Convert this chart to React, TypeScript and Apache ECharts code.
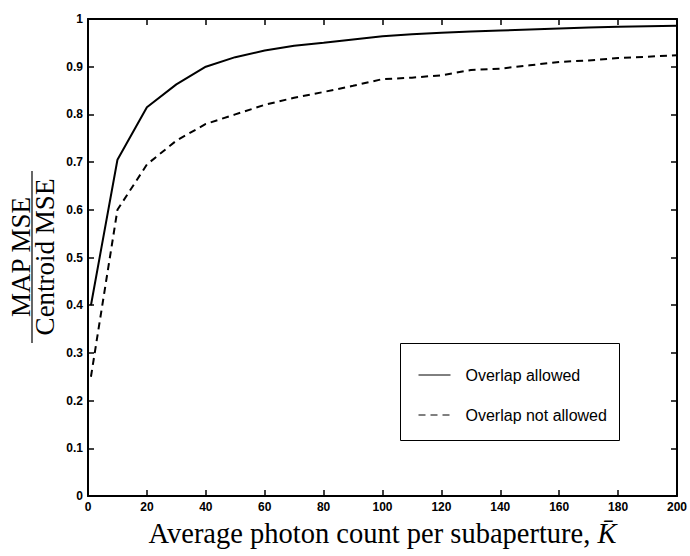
import React, { useEffect, useRef } from "react";
import * as echarts from "echarts";

const kValues = [1, 10, 20, 30, 40, 50, 60, 70, 80, 90, 100, 110, 120, 130, 140, 150, 160, 170, 180, 190, 200];
const overlapAllowed = [0.40, 0.705, 0.815, 0.863, 0.90, 0.92, 0.934, 0.944, 0.95, 0.957, 0.964, 0.968, 0.971, 0.974, 0.976, 0.978, 0.98, 0.982, 0.984, 0.985, 0.986];
const overlapNotAllowed = [0.25, 0.60, 0.695, 0.745, 0.78, 0.80, 0.82, 0.835, 0.847, 0.86, 0.874, 0.877, 0.882, 0.893, 0.896, 0.903, 0.91, 0.913, 0.918, 0.921, 0.924];
const seriesNames = ["Overlap allowed", "Overlap not allowed"];
const xTitle = "Average photon count per subaperture, ";
const yNumerator = "MAP MSE";
const yDenominator = "Centroid MSE";

const tickFont = { color: "#000", fontFamily: "Liberation Sans, Arial, sans-serif", fontWeight: "bold" as const, fontSize: 12 };

export default function App() {
  const ref = useRef<HTMLDivElement>(null);
  useEffect(() => {
    if (!ref.current) return;
    const chart = echarts.init(ref.current, undefined, { renderer: "svg" });
    const axisLine = { show: true, onZero: false, lineStyle: { color: "#000", width: 2 } };
    const axisTick = { show: true, inside: true, length: 6, lineStyle: { color: "#000", width: 1.5 } };
    chart.setOption({
      animation: false,
      backgroundColor: "#fff",
      grid: { left: 88, right: 8, top: 19, bottom: 60, containLabel: false },
      xAxis: [
        {
          type: "value", min: 0, max: 200, interval: 20,
          axisLine, axisTick,
          axisLabel: { ...tickFont, margin: 5 },
          splitLine: { show: false },
          name: `${xTitle}{k|K\u0304}`,
          nameLocation: "middle",
          nameGap: 23,
          nameTextStyle: {
            color: "#000", fontFamily: "Liberation Serif, Times New Roman, serif", fontSize: 28.5,
            rich: { k: { fontStyle: "italic", fontFamily: "Liberation Serif, serif", fontSize: 28.5, color: "#000" } },
          },
        },
        {
          type: "value", position: "top", min: 0, max: 200, interval: 20,
          axisLine, axisTick, axisLabel: { show: false }, splitLine: { show: false },
        },
      ],
      yAxis: [
        {
          type: "value", min: 0, max: 1, interval: 0.1,
          axisLine, axisTick,
          axisLabel: { ...tickFont, margin: 5 },
          splitLine: { show: false },
        },
        {
          type: "value", position: "right", min: 0, max: 1, interval: 0.1,
          axisLine, axisTick, axisLabel: { show: false }, splitLine: { show: false },
        },
      ],
      legend: {
        left: 418, top: 367, orient: "vertical",
        itemWidth: 32, itemHeight: 14, itemGap: 24,
        padding: 0,
        data: seriesNames,
        itemStyle: { opacity: 0 },
        lineStyle: { width: 1 },
        textStyle: { color: "#000", fontFamily: "Liberation Sans, Arial, sans-serif", fontSize: 16, padding: [0, 0, 0, 10] },
      },
      graphic: [
        {
          type: "rect", z: 1,
          shape: { x: 400.5, y: 343.5, width: 219, height: 97 },
          style: { fill: "#fff", stroke: "#000", lineWidth: 1 },
        },
        {
          type: "group", x: 32, y: 257, rotation: Math.PI / 2,
          children: [
            { type: "text", x: 0, y: -11.5, style: { text: yNumerator, fontFamily: "Liberation Serif, serif", fontSize: 27, fill: "#000", align: "center", verticalAlign: "middle" } },
            { type: "line", shape: { x1: -86, y1: 0, x2: 86, y2: 0 }, style: { stroke: "#000", lineWidth: 1.2 } },
            { type: "text", x: 0, y: 12.5, style: { text: yDenominator, fontFamily: "Liberation Serif, serif", fontSize: 27, fill: "#000", align: "center", verticalAlign: "middle" } },
          ],
        },
      ],
      series: [
        {
          type: "line", name: seriesNames[0], symbol: "none",
          data: kValues.map((k, i) => [k, overlapAllowed[i]]),
          lineStyle: { color: "#000", width: 2 }, itemStyle: { color: "#000" },
        },
        {
          type: "line", name: seriesNames[1], symbol: "none",
          data: kValues.map((k, i) => [k, overlapNotAllowed[i]]),
          lineStyle: { color: "#000", width: 2, type: [7, 5] }, itemStyle: { color: "#000" },
        },
      ],
    });
    return () => chart.dispose();
  }, []);
  return <div ref={ref} style={{ position: "fixed", left: 0, top: 0, width: 690, height: 556 }} />;
}
